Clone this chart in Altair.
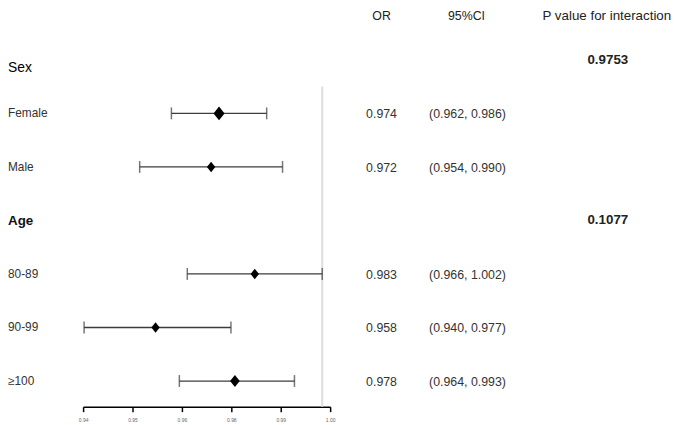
import altair as alt
import pandas as pd

# ---- data ----
rows = ["Sex", "Female", "Male", "Age", "80-89", "90-99", "≥100"]
groups = ["Sex", "Age"]
p_interaction = ["0.9753", "0.1077"]
subgroups = ["Female", "Male", "80-89", "90-99", "≥100"]
or_vals = [0.974, 0.972, 0.983, 0.958, 0.978]
ci_low = [0.962, 0.954, 0.966, 0.940, 0.964]
ci_high = [0.986, 0.990, 1.002, 0.977, 0.993]
headers = ["OR", "95%CI", "P value for interaction"]
tick_labels = ["0.94", "0.95", "0.96", "0.98", "0.99", "1.00"]
ref_value = 1.0

FONT = "Liberation Sans, Arial, Helvetica, sans-serif"

sub_df = pd.DataFrame({"row": subgroups, "or": or_vals, "lo": ci_low, "hi": ci_high})
grp_df = pd.DataFrame({"row": groups, "p": p_interaction})
tick_df = pd.DataFrame({"t": tick_labels})

y_enc = alt.Y("row:N", sort=rows,
              scale=alt.Scale(type="point", domain=rows, range=[50, 375], padding=0),
              axis=None)
xs = alt.Scale(domain=[0.94, 1.0], range=[77, 318], clamp=True)

base = alt.Chart(sub_df)

ref = alt.Chart(pd.DataFrame({"ref": [ref_value]})).mark_rule(
    color="#dddddd", strokeWidth=2
).encode(x=alt.X("ref:Q", scale=xs, axis=None), y=alt.value(77), y2=alt.value(401))

ci = base.mark_rule(color="#3c3c3c", strokeWidth=1.3).encode(
    x=alt.X("lo:Q", scale=xs, axis=None), x2="hi:Q", y=y_enc)
cap_lo = base.mark_tick(color="#3c3c3c", thickness=1.5, size=12, orient="vertical").encode(
    x=alt.X("lo:Q", scale=xs, axis=None), y=y_enc)
cap_hi = base.mark_tick(color="#3c3c3c", thickness=1.5, size=12, orient="vertical").encode(
    x=alt.X("hi:Q", scale=xs, axis=None), y=y_enc)

pts = base.transform_calculate(
    prec="1 / ((datum.hi - datum.lo) * (datum.hi - datum.lo))"
).mark_point(shape="M0,-1L0.8,0L0,1L-0.8,0Z", filled=True, color="black", opacity=1).encode(
    x=alt.X("or:Q", scale=xs, axis=None), y=y_enc,
    size=alt.Size("prec:Q", scale=alt.Scale(domain=[730, 1740], range=[110, 196]), legend=None))

sub_lab = base.mark_text(align="left", baseline="middle", fontSize=12, color="#333333",
                         font=FONT).encode(text="row:N", x=alt.value(0), y=y_enc)
grp_lab_sex = alt.Chart(grp_df).transform_filter("datum.row == 'Sex'").mark_text(
    align="left", baseline="middle", fontSize=14, fontWeight="normal", color="#000000",
    font=FONT, dy=8).encode(text="row:N", x=alt.value(0), y=y_enc)
grp_lab_other = alt.Chart(grp_df).transform_filter("datum.row != 'Sex'").mark_text(
    align="left", baseline="middle", fontSize=13.5, fontWeight="bold", color="#111111",
    font=FONT, dy=1).encode(text="row:N", x=alt.value(0), y=y_enc)

or_txt = base.mark_text(align="center", baseline="middle", fontSize=12.5, color="#333333",
                        font=FONT).encode(text=alt.Text("or:Q", format=".3f"),
                                          x=alt.value(378), y=y_enc, yOffset=alt.value(1))
ci_txt = base.transform_calculate(
    ci="'(' + format(datum.lo, '.3f') + ', ' + format(datum.hi, '.3f') + ')'"
).mark_text(align="center", baseline="middle", fontSize=12.5, color="#333333",
            font=FONT).encode(text="ci:N", x=alt.value(465), y=y_enc, yOffset=alt.value(1))
p_txt = alt.Chart(grp_df).mark_text(align="center", baseline="middle", fontSize=13.5,
                                    fontWeight="bold", color="#222222", font=FONT).encode(
    text="p:N", x=alt.value(607), y=y_enc)

hdr_x = [378, 464, 606]
hdr_sizes = [12.5, 12.5, 13.5]
hdr_layers = []
for h, hx, hs in zip(headers, hdr_x, hdr_sizes):
    hdr_layers.append(
        alt.Chart(pd.DataFrame({"h": [h]})).mark_text(
            align="center", baseline="middle", fontSize=hs, color="#222222", font=FONT
        ).encode(text="h:N", x=alt.value(hx), y=alt.value(6)))

axis_layer = alt.Chart(tick_df).mark_point(opacity=0).encode(
    x=alt.X("t:O", sort=tick_labels,
            scale=alt.Scale(type="point", domain=tick_labels, range=[76, 326], padding=0),
            axis=alt.Axis(orient="bottom", title=None, labelAngle=0, domainColor="black",
                          domainWidth=1.5, tickColor="black", tickWidth=1.5, tickSize=5,
                          labelFontSize=5, labelColor="#666666", labelPadding=6,
                          labelFont=FONT, grid=False)),
    y=alt.value(401))

data_layers = alt.layer(ref, ci, cap_lo, cap_hi, pts, sub_lab, grp_lab_sex, grp_lab_other,
                        or_txt, ci_txt, p_txt, *hdr_layers)

chart = alt.layer(data_layers, axis_layer).resolve_scale(x="independent").properties(
    width=669, height=401,
    autosize=alt.AutoSizeParams(type="none"),
    padding={"left": 0, "top": 0, "right": 8, "bottom": 15},
).configure_view(stroke=None)

chart.save("out.html", embed_options={"renderer": "svg", "actions": False})
